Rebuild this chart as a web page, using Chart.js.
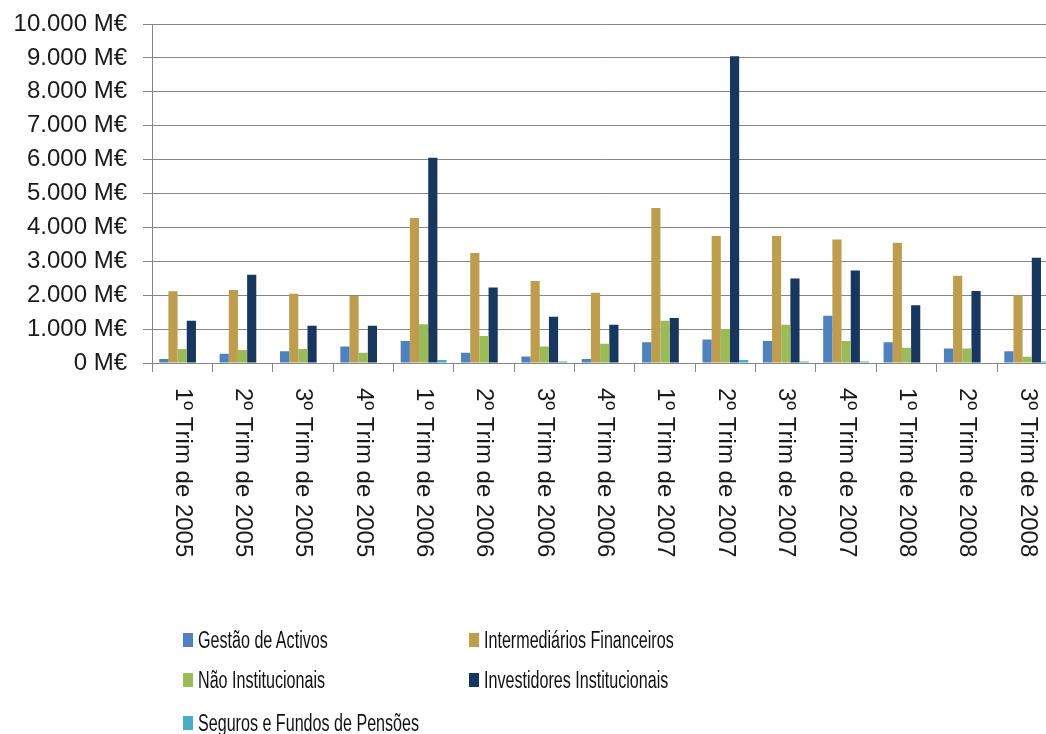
<!DOCTYPE html>
<html>
<head>
<meta charset="utf-8">
<script src="https://cdn.jsdelivr.net/npm/chart.js@4.4.1/dist/chart.umd.min.js"></script>
<style>
  html, body { margin: 0; padding: 0; background: #fff; overflow: hidden; }
  #wrap { position: relative; width: 1046px; height: 734px; overflow: hidden; }
  #chart { position: absolute; left: 0; top: 0; }
  .lg-box { position: absolute; width: 10px; height: 14px; }
  .lg-txt { position: absolute; font: 23px "Liberation Sans", Arial, sans-serif; line-height: 26px;
            color: #111; white-space: nowrap; transform: scaleX(0.70); transform-origin: left center; }
</style>
</head>
<body>
<div id="wrap">
  <canvas id="chart" width="1070" height="734"></canvas>
  <div id="legend"></div>
</div>
<script>
// Data (M€ per quarter) ----------------------------------------------------
var quarters = [
  "1º Trim de 2005", "2º Trim de 2005", "3º Trim de 2005", "4º Trim de 2005",
  "1º Trim de 2006", "2º Trim de 2006", "3º Trim de 2006", "4º Trim de 2006",
  "1º Trim de 2007", "2º Trim de 2007", "3º Trim de 2007", "4º Trim de 2007",
  "1º Trim de 2008", "2º Trim de 2008", "3º Trim de 2008"
];
var gestaoActivos      = [120, 275, 345, 490, 650, 305, 190, 120, 610, 690, 650, 1395, 610, 425, 345];
var intermediarios     = [2115, 2155, 2045, 1975, 4280, 3245, 2420, 2075, 4570, 3745, 3745, 3640, 3550, 2575, 1995];
var naoInstitucionais  = [415, 385, 415, 305, 1140, 795, 490, 570, 1250, 1005, 1130, 650, 450, 425, 185];
var investidoresInst   = [1250, 2605, 1100, 1100, 6055, 2230, 1365, 1130, 1325, 9050, 2495, 2725, 1700, 2125, 3105];
var segurosPensoes     = [0, 0, 0, 0, 90, 0, 45, 0, 0, 90, 45, 45, 0, 0, 45];
var yTicks = [0, 1000, 2000, 3000, 4000, 5000, 6000, 7000, 8000, 9000, 10000];

// Theme ------------------------------------------------------------------
var GRID = "#868686", TEXT = "#1a1a1a";
Chart.defaults.font.family = "'Liberation Sans', Arial, sans-serif";
Chart.defaults.color = TEXT;

var series = [
  { label: "Gestão de Activos",           data: gestaoActivos,     color: "#4F81BD" },
  { label: "Intermediários Financeiros",  data: intermediarios,    color: "#BE9E4E" },
  { label: "Não Institucionais",          data: naoInstitucionais, color: "#9BBB59" },
  { label: "Investidores Institucionais", data: investidoresInst,  color: "#17375E" },
  { label: "Seguros e Fundos de Pensões", data: segurosPensoes,    color: "#4BACC6" }
];

function fmtEuro(v) {
  return String(v).replace(/\B(?=(\d{3})+(?!\d))/g, ".") + " M€";
}

// vertical category labels, reading top to bottom
var downLabels = {
  id: "downLabels",
  afterDraw: function (chart) {
    var x = chart.scales.x, ctx = chart.ctx;
    ctx.save();
    ctx.font = "24px 'Liberation Sans', Arial, sans-serif";
    ctx.fillStyle = TEXT;
    ctx.textAlign = "left";
    ctx.textBaseline = "middle";
    quarters.forEach(function (q, i) {
      ctx.save();
      ctx.translate(x.getPixelForValue(i), 388);
      ctx.rotate(Math.PI / 2);
      ctx.fillText(q, 0, 0);
      ctx.restore();
    });
    ctx.restore();
  }
};

new Chart(document.getElementById("chart"), {
  type: "bar",
  data: {
    labels: quarters,
    datasets: series.map(function (s) {
      return { label: s.label, data: s.data, backgroundColor: s.color,
               categoryPercentage: 0.76, barPercentage: 1.0 };
    })
  },
  options: {
    responsive: false,
    devicePixelRatio: 1,
    animation: false,
    layout: { padding: { top: 24, right: 12.6, bottom: 0, left: 0 } },
    plugins: { legend: { display: false }, tooltip: { enabled: false } },
    scales: {
      x: {
        grid: { offset: true, drawOnChartArea: false, drawTicks: true, tickLength: 9, color: GRID },
        border: { display: true, color: GRID },
        ticks: { display: false },
        afterFit: function (s) { s.height = 371; }
      },
      y: {
        min: 0, max: 10000,
        afterBuildTicks: function (s) { s.ticks = yTicks.map(function (v) { return { value: v }; }); },
        grid: { color: GRID, tickLength: 9 },
        border: { display: true, color: GRID },
        ticks: { padding: 16, font: { size: 24 }, color: TEXT, callback: fmtEuro },
        afterFit: function (s) { s.width = 152; s.paddingTop = 0; s.paddingBottom = 0; }
      }
    }
  },
  plugins: [downLabels]
});

// Legend (two columns, row-major like the original) ----------------------
var legendCols = [183, 469], legendRows = [640, 680, 723];
var lg = document.getElementById("legend");
series.forEach(function (s, i) {
  var left = legendCols[i % 2], mid = legendRows[Math.floor(i / 2)];
  var box = document.createElement("div");
  box.className = "lg-box";
  box.style.left = left + "px";
  box.style.top = (mid - 7) + "px";
  box.style.background = s.color;
  var txt = document.createElement("div");
  txt.className = "lg-txt";
  txt.style.left = (left + 15) + "px";
  txt.style.top = (mid - 13) + "px";
  txt.textContent = s.label;
  lg.appendChild(box);
  lg.appendChild(txt);
});
</script>
</body>
</html>
